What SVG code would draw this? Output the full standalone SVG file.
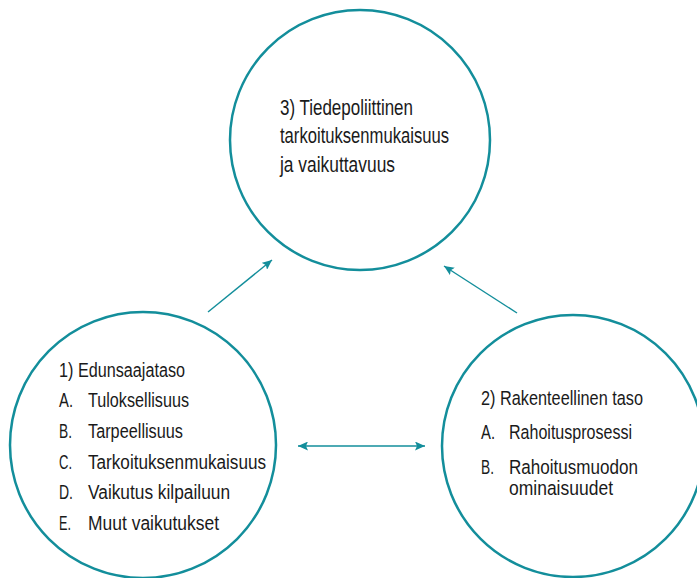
<svg xmlns="http://www.w3.org/2000/svg" width="697" height="578" viewBox="0 0 697 578">
<style>
.node circle{fill:#ffffff;stroke:#138e9b;stroke-width:2.5}
text{font-family:"Liberation Sans",Arial,sans-serif;fill:#1a1a1a}
.t3{font-size:22.5px}
.t1{font-size:20px}
.t2{font-size:20.5px}
.conn line{stroke:#138e9b;stroke-width:1.4;fill:none}
</style>
<defs>
<marker id="ah" markerUnits="userSpaceOnUse" markerWidth="11" markerHeight="9" refX="10" refY="4.5" orient="auto-start-reverse" viewBox="0 0 11 9">
<path d="M0,0 L10,4.5 L0,9 L2,4.5 z" fill="#138e9b"/>
</marker>
</defs>
<rect width="697" height="578" fill="#ffffff"/>
<g id="node-3" class="node">
<circle cx="360" cy="140" r="130"/>
<text class="t3" x="280" y="115" textLength="133" lengthAdjust="spacingAndGlyphs">3) Tiedepoliittinen</text>
<text class="t3" x="280" y="143" textLength="169" lengthAdjust="spacingAndGlyphs">tarkoituksenmukaisuus</text>
<text class="t3" x="280" y="172" textLength="115" lengthAdjust="spacingAndGlyphs">ja vaikuttavuus</text>
</g>
<g id="node-1" class="node">
<circle cx="143" cy="445" r="133"/>
<text class="t1" x="59" y="377" textLength="126" lengthAdjust="spacingAndGlyphs">1) Edunsaajataso</text>
<text class="t1" x="59" y="407" textLength="14" lengthAdjust="spacingAndGlyphs">A.</text>
<text class="t1" x="88" y="407" textLength="101" lengthAdjust="spacingAndGlyphs">Tuloksellisuus</text>
<text class="t1" x="59" y="438" textLength="13" lengthAdjust="spacingAndGlyphs">B.</text>
<text class="t1" x="88" y="438" textLength="95" lengthAdjust="spacingAndGlyphs">Tarpeellisuus</text>
<text class="t1" x="59" y="469" textLength="13" lengthAdjust="spacingAndGlyphs">C.</text>
<text class="t1" x="88" y="469" textLength="178" lengthAdjust="spacingAndGlyphs">Tarkoituksenmukaisuus</text>
<text class="t1" x="59" y="499" textLength="14" lengthAdjust="spacingAndGlyphs">D.</text>
<text class="t1" x="88" y="499" textLength="142" lengthAdjust="spacingAndGlyphs">Vaikutus kilpailuun</text>
<text class="t1" x="59" y="530" textLength="12" lengthAdjust="spacingAndGlyphs">E.</text>
<text class="t1" x="88" y="530" textLength="131" lengthAdjust="spacingAndGlyphs">Muut vaikutukset</text>
</g>
<g id="node-2" class="node">
<circle cx="573" cy="446" r="131"/>
<text class="t2" x="481" y="405" textLength="162" lengthAdjust="spacingAndGlyphs">2) Rakenteellinen taso</text>
<text class="t2" x="481" y="439" textLength="14" lengthAdjust="spacingAndGlyphs">A.</text>
<text class="t2" x="509" y="439" textLength="123" lengthAdjust="spacingAndGlyphs">Rahoitusprosessi</text>
<text class="t2" x="481" y="474" textLength="13" lengthAdjust="spacingAndGlyphs">B.</text>
<text class="t2" x="509" y="474" textLength="129" lengthAdjust="spacingAndGlyphs">Rahoitusmuodon</text>
<text class="t2" x="509" y="495" textLength="104" lengthAdjust="spacingAndGlyphs">ominaisuudet</text>
</g>
<g id="connectors" class="conn">
<line x1="208" y1="312" x2="272" y2="260" marker-end="url(#ah)"/>
<line x1="517" y1="313" x2="444" y2="266" marker-end="url(#ah)"/>
<line x1="298" y1="446" x2="425" y2="446" marker-start="url(#ah)" marker-end="url(#ah)"/>
</g>
</svg>
